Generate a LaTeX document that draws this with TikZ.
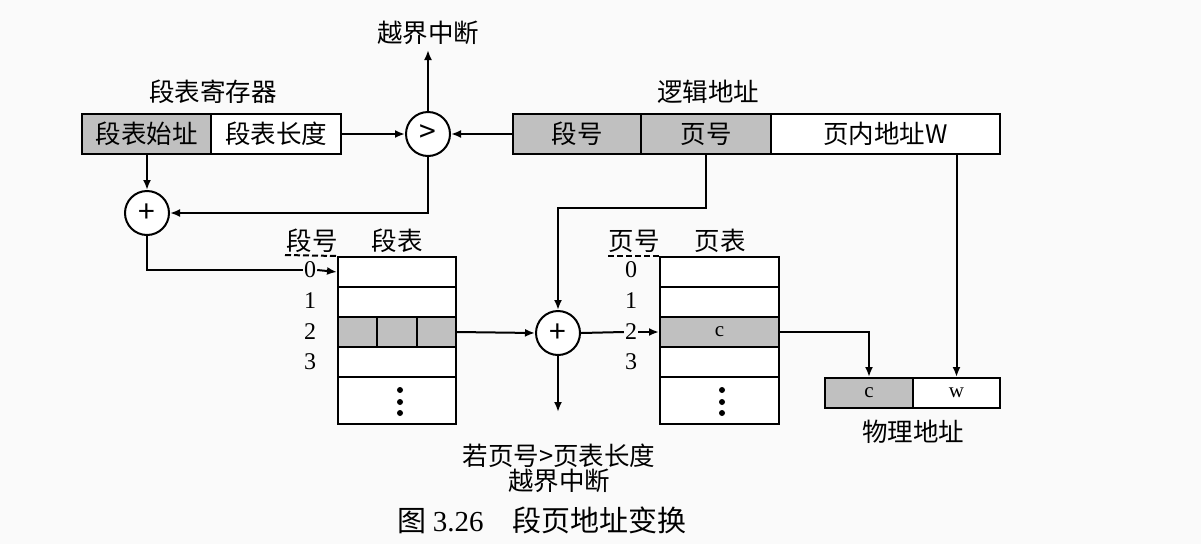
\documentclass[tikz,border=0pt]{standalone}
\usepackage{fontspec}
\usetikzlibrary{arrows.meta}
\newfontfamily\cjk{Noto Sans CJK SC}
\newfontfamily\serifnum{Liberation Serif}
\definecolor{cellgray}{RGB}{192,192,192}
\definecolor{bgcol}{RGB}{250,250,250}
\tikzset{
  lw/.style={line width=2pt},
  arr/.style={lw,-{Latex[length=10pt,width=8pt]}},
  cellbox/.style={draw,lw,inner sep=0pt,minimum height=#1},
  cellbox/.default=40pt,
  grayc/.style={fill=cellgray},
  whitec/.style={fill=white},
  cjklabel/.style={font=\cjk\fontsize{25.5}{27}\selectfont,inner sep=0pt},
  numlabel/.style={font=\serifnum\fontsize{24}{26}\selectfont,inner sep=1pt},
  smallletter/.style={font=\serifnum\fontsize{21}{23}\selectfont},
  opcircle/.style={draw,lw,circle,minimum size=44pt,inner sep=0pt,fill=white,font=\cjk\fontsize{30}{32}\selectfont},
}
\begin{document}
\begin{tikzpicture}[x=1pt,y=-1pt]
\fill[bgcol] (0,0) rectangle (1201,544);
\useasboundingbox (0,0) rectangle (1201,544);

% segment table register
\node[cjklabel] (reglabel) at (213,92) {段表寄存器};
\node[cellbox,grayc,minimum width=129pt,cjklabel] (regbase) at (146.5,134) {段表始址};
\node[cellbox,whitec,minimum width=130pt,cjklabel] (reglen) at (276,134) {段表长度};

% logical address
\node[cjklabel] (lalabel) at (708,92) {逻辑地址};
\node[cellbox,grayc,minimum width=128pt,cjklabel] (lseg) at (577,134) {段号};
\node[cellbox,grayc,minimum width=130pt,cjklabel] (lpage) at (706,134) {页号};
\node[cellbox,whitec,minimum width=229pt,cjklabel] (lw) at (885.5,134) {页内地址W};

% compare circle
\node[opcircle] (cmp) at (428,134) {>};
\coordinate (ovf1) at (428,50);
\node[cjklabel] (ovf1label) at (428,33) {越界中断};

% plus circle 1
\node[opcircle] (plus1) at (147,213) {+};

% segment table
\node[cjklabel] (sthead1) at (312,241) {段号};
\node[cjklabel] (sthead2) at (397,241) {段表};
\node[cellbox=30pt,whitec,minimum width=118pt] (st0) at (397,272) {};
\node[cellbox=30pt,whitec,minimum width=118pt] (st1) at (397,302) {};
\node[cellbox=30pt,grayc,minimum width=39pt] (st2a) at (357.5,332) {};
\node[cellbox=30pt,grayc,minimum width=40pt] (st2b) at (397,332) {};
\node[cellbox=30pt,grayc,minimum width=39pt] (st2c) at (436.5,332) {};
\node[cellbox=30pt,whitec,minimum width=118pt] (st3) at (397,362) {};
\node[cellbox=47pt,whitec,minimum width=118pt] (st4) at (397,400.5) {};
\fill (400,390) circle (3pt) (400,402) circle (3pt) (400,413) circle (3pt);
\node[numlabel] (s0) at (310,270) {0};
\node[numlabel] (s1) at (310,301) {1};
\node[numlabel] (s2) at (310,332) {2};
\node[numlabel] (s3) at (310,362) {3};
\draw[lw,dashed,dash pattern=on 6pt off 3pt] (285,255) -- (st0.north west);

% plus circle 2
\node[opcircle] (plus2) at (558,333) {+};
\coordinate (bend) at (706,208);
\coordinate (ovf2) at (558,412);
\node[cjklabel] (ovf2label) at (559,456) {若页号>页表长度};
\node[cjklabel] (ovf2label2) at (559,481) {越界中断};

% page table
\node[cjklabel] (pthead1) at (634,241) {页号};
\node[cjklabel] (pthead2) at (720,241) {页表};
\node[cellbox=30pt,whitec,minimum width=119pt] (pt0) at (719.5,272) {};
\node[cellbox=30pt,whitec,minimum width=119pt] (pt1) at (719.5,302) {};
\node[cellbox=30pt,grayc,minimum width=119pt,smallletter] (pt2) at (719.5,332) {c};
\node[cellbox=30pt,whitec,minimum width=119pt] (pt3) at (719.5,362) {};
\node[cellbox=47pt,whitec,minimum width=119pt] (pt4) at (719.5,400.5) {};
\fill (722,390) circle (3pt) (722,402) circle (3pt) (722,413) circle (3pt);
\node[numlabel] (p0) at (631,270) {0};
\node[numlabel] (p1) at (631,301) {1};
\node[numlabel] (p2) at (631,332) {2};
\node[numlabel] (p3) at (631,362) {3};
\draw[lw,dashed,dash pattern=on 6pt off 3pt] (608,256) -- (pt0.north west);

% physical address
\node[cellbox=30pt,grayc,minimum width=88pt,smallletter] (pc) at (869,393) {c};
\node[cellbox=30pt,whitec,minimum width=87pt,smallletter] (pw) at (956.5,393) {w};
\node[cjklabel] (palabel) at (913,432) {物理地址};

% caption
\node[font=\cjk\fontsize{29}{31}\selectfont,inner sep=0pt] (caption) at (542,520) {图 {\serifnum 3.26}\hspace{1em}段页地址变换};

% connectors
\draw[arr] (cmp.north) -- (ovf1);
\draw[arr] (reglen.east) -- (cmp.west);
\draw[arr] (lseg.west) -- (cmp.east);
\draw[arr] (regbase.south -| plus1.north) -- (plus1.north);
\draw[arr] (cmp.south) |- (plus1.east);
\draw[lw] (plus1.south) |- (s0.west);
\draw[arr] (s0.east) -- (st0.west);
\draw[arr] (st2c.east) -- (plus2.west);
\draw[arr] (lpage.south) -- (bend) -| (plus2.north);
\draw[arr] (plus2.south) -- (ovf2);
\draw[lw] (plus2.east) -- (p2.west);
\draw[arr] (p2.east) -- (pt2.west);
\draw[arr] (pt2.east) -| (pc.north);
\draw[arr] (pw.north |- lw.south) -- (pw.north);
\end{tikzpicture}
\end{document}
